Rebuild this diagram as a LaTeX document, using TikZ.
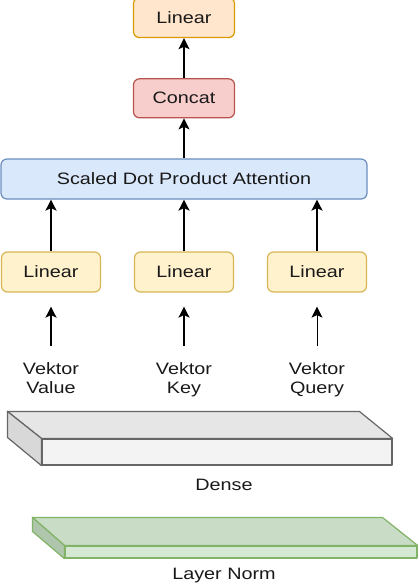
\documentclass[tikz,border=0pt]{standalone}
\usepackage{fontspec}
\setmainfont[FakeStretch=1.2]{Liberation Sans}
\usepackage{xcolor}
\usetikzlibrary{arrows.meta, positioning}
\definecolor{orgFill}{HTML}{FFE6CC}
\definecolor{orgLine}{HTML}{D79B00}
\definecolor{redFill}{HTML}{F8CECC}
\definecolor{redLine}{HTML}{B85450}
\definecolor{bluFill}{HTML}{DAE8FC}
\definecolor{bluLine}{HTML}{6C8EBF}
\definecolor{ylwFill}{HTML}{FFF2CC}
\definecolor{ylwLine}{HTML}{D6B656}
\definecolor{gryLine}{HTML}{666666}
\definecolor{gryFront}{HTML}{F3F3F3}
\definecolor{gryTop}{HTML}{E6E6E6}
\definecolor{grySide}{HTML}{D8D8D8}
\definecolor{grnFill}{HTML}{D5E8D4}
\definecolor{grnTop}{HTML}{C8DCC6}
\definecolor{grnSide}{HTML}{AFC6AD}
\definecolor{grnLine}{HTML}{82B366}

\begin{document}
\begin{tikzpicture}[x=1pt, y=-1pt,
    font=\fontsize{16.5}{19.5}\selectfont,
    box/.style={draw, line width=1.2pt, rounded corners=6pt, minimum height=40pt, align=center, text=black!90},
    linTop/.style={box, fill=orgFill, draw=orgLine, minimum width=101pt},
    cat/.style={box, fill=redFill, draw=redLine, minimum width=101pt, minimum height=39pt},
    attn/.style={box, fill=bluFill, draw=bluLine, minimum width=366pt},
    lin/.style={box, fill=ylwFill, draw=ylwLine, minimum width=99pt},
    lbl/.style={align=center, inner sep=0pt, text=black!90},
    vec/.style={lbl, anchor=north},
    flow/.style={draw, line width=1.7pt, -{Stealth[length=11pt, width=11pt, inset=2.5pt]}},
    feed/.style={flow, shorten <=16pt, shorten >=14pt},
    slab/.style={draw, line width=1.2pt, inner sep=0pt, line join=round}
]
    \useasboundingbox (0,0) rectangle (418,588);

    % Attention block
    \node[attn] (sdpa) at (184,179) {Scaled Dot Product Attention};
    \node[cat, above=40pt of sdpa] (concat) {Concat};
    \node[linTop, above=40pt of concat] (out) {Linear};

    % Projections
    \node[lin] (linV) at (51,272) {Linear};
    \node[lin] (linK) at (184,272) {Linear};
    \node[lin] (linQ) at (317,272) {Linear};

    % Inputs
    \node[vec] (vecV) at (51,362) {Vektor\\Value};
    \node[vec] (vecK) at (184,362) {Vektor\\Key};
    \node[vec] (vecQ) at (317,362) {Vektor\\Query};

    % Paths
    \draw[feed] (vecV) -- (linV);
    \draw[feed] (vecK) -- (linK);
    \draw[feed, line width=0.9pt] (vecQ) -- (linQ);
    \draw[flow] (linV) -- (linV |- sdpa.south);
    \draw[flow] (linK) -- (sdpa);
    \draw[flow] (linQ) -- (linQ |- sdpa.south);
    \draw[flow] (sdpa) -- (concat);
    \draw[flow] (concat) -- (out);

    % Dense slab
    \node[slab, draw=gryLine, fill=gryFront, minimum width=350pt, minimum height=26pt] (dense) at (217,452) {};
    \draw[slab, draw=gryLine, fill=gryTop] (dense.north west) -- ++(-34,-27) -- ++(352,0) -- (dense.north east) -- cycle;
    \draw[slab, draw=gryLine, fill=grySide] (dense.north west) -- ++(-34,-27) -- ++(0,26) -- (dense.south west) -- cycle;
    \node[lbl] (denseLbl) at (224,485) {Dense};

    % Layer norm slab
    \node[slab, draw=grnLine, fill=grnFill, minimum width=352pt, minimum height=12pt] (norm) at (241,552) {};
    \draw[slab, draw=grnLine, fill=grnTop] (norm.north west) -- ++(-32,-28) -- ++(350,0) -- (norm.north east) -- cycle;
    \draw[slab, draw=grnLine, fill=grnSide] (norm.north west) -- ++(-32,-28) -- ++(0,14) -- (norm.south west) -- cycle;
    \node[lbl] (normLbl) at (224,576) {Layer Norm};
\end{tikzpicture}
\end{document}
